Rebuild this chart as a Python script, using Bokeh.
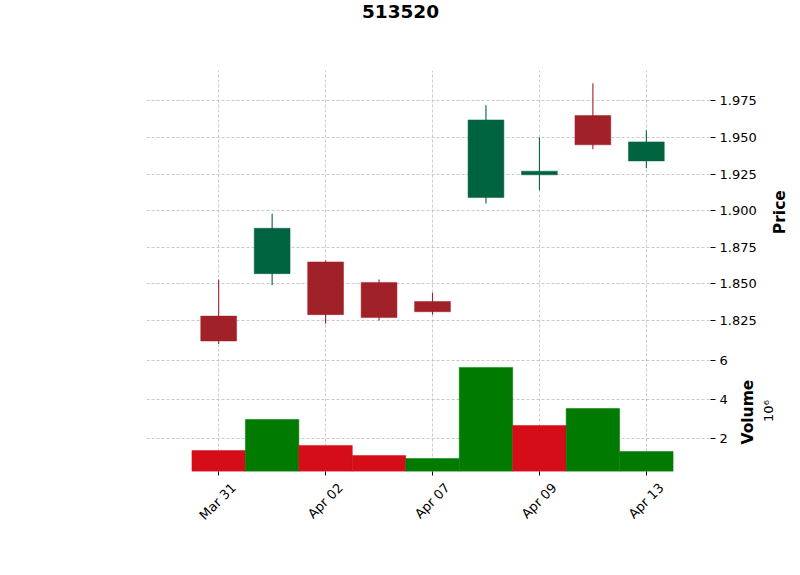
import math
from bokeh.plotting import figure
from bokeh.layouts import column
from bokeh.models import (ColumnDataSource, FixedTicker, Range1d, LinearAxis,
                          NumeralTickFormatter)
from bokeh.core.properties import value
from bokeh.embed import file_html
from bokeh.resources import INLINE

# ---- data ----
title_text = "513520"
dates = ["Mar 31", "Apr 01", "Apr 02", "Apr 03", "Apr 07", "Apr 08", "Apr 09", "Apr 10", "Apr 13"]
open_ = [1.828, 1.857, 1.865, 1.851, 1.838, 1.909, 1.9245, 1.965, 1.934]
high = [1.853, 1.898, 1.866, 1.853, 1.844, 1.972, 1.950, 1.987, 1.955]
low = [1.809, 1.849, 1.823, 1.825, 1.829, 1.905, 1.914, 1.942, 1.929]
close = [1.811, 1.888, 1.829, 1.827, 1.831, 1.962, 1.927, 1.945, 1.947]
volume = [1.40e6, 2.99e6, 1.66e6, 1.14e6, 0.99e6, 5.66e6, 2.68e6, 3.55e6, 1.35e6]
x_tick_idx = [0, 2, 4, 6, 8]
price_ticks = [1.825, 1.850, 1.875, 1.900, 1.925, 1.950, 1.975]
vol_ticks = [2, 4, 6]

# ---- styling / geometry ----
FONT = "DejaVu Sans"
UP, DOWN = "#006340", "#A02128"
VUP, VDOWN = "#007a00", "#d50d18"
GRID = "#bdbdbd"

W = 800
BL, FW = 146, 572
BR = W - BL - FW
FW_EFF = 564               # frame width after the right axes take their room
X_L, X_R = -1.35, 9.2
P_LO, P_HI = 1.80656, 1.99577
V_LO, V_HI = 0.323, 6.68
LABEL_SHIFT = 0.28         # rotated date labels sit centred under their ticks

T_H = 30                   # title strip
P_TB, P_FH = 40, 277       # price panel top border / frame height
V_FH, V_BB = 124, 80       # volume frame height / bottom border

idx = list(range(len(dates)))
body_top = [max(o, c) for o, c in zip(open_, close)]
body_bot = [min(o, c) for o, c in zip(open_, close)]
ccol = [UP if c >= o else DOWN for o, c in zip(open_, close)]
vcol = []
for i in idx:
    ref = open_[0] if i == 0 else close[i - 1]
    vcol.append(VUP if close[i] >= ref else VDOWN)
vol_m = [v / 1e6 for v in volume]

src = ColumnDataSource(dict(x=idx, high=high, low=low, top=body_top, bot=body_bot,
                            c=ccol, vc=vcol, vol=vol_m))


def sx2x(sx):
    return X_L + (sx - BL) / FW_EFF * (X_R - X_L)


def base(p):
    p.outline_line_color = None
    p.background_fill_color = "white"
    p.border_fill_color = "white"


def style_y(ax):
    ax.axis_line_color = None
    ax.major_tick_in = 0
    ax.major_tick_out = 5
    ax.minor_tick_line_color = None
    ax.major_tick_line_color = "black"
    ax.major_label_text_font = FONT
    ax.major_label_text_font_size = "13px"
    ax.major_label_text_color = "black"
    ax.major_label_standoff = 4


def label_axis(p, text, size, bold, std, pad):
    """A tick-less right axis carrying a label that reads bottom-to-top.
    The label starts at the bottom of the frame; `pad` non-breaking spaces
    lift it to its place."""
    ax = LinearAxis(ticker=FixedTicker(ticks=[]), axis_line_color=None,
                    major_tick_out=0, major_tick_in=0, major_label_standoff=0,
                    minor_tick_line_color=None)
    ax.axis_label = "\u00a0" * pad + text
    ax.axis_label_text_font = FONT
    ax.axis_label_text_font_size = size
    ax.axis_label_text_font_style = "bold" if bold else "normal"
    ax.axis_label_text_color = "black"
    ax.axis_label_standoff = std
    ax.axis_label_orientation = math.pi / 2
    ax.axis_label_align = "start"
    p.add_layout(ax, "right")
    return ax


def style_grid(p):
    for g in p.grid:
        g.grid_line_color = GRID
        g.grid_line_dash = "3 2"
        g.grid_line_width = 0.8


# ---- title strip ----
p0 = figure(width=W, height=T_H, x_range=Range1d(X_L, X_R), y_range=Range1d(0, T_H),
            x_axis_location=None, y_axis_location=None, toolbar_location=None,
            output_backend="svg", min_border=0)
base(p0)
p0.min_border_left = BL
p0.min_border_right = BR
p0.grid.visible = False
p0.text(x=[sx2x(400)], y=[T_H - 11], text=[title_text], text_font=value(FONT),
        text_font_size="18.5px", text_font_style="bold", text_align="center",
        text_baseline="middle", text_color="black")

# ---- price panel ----
p1 = figure(width=W, height=P_TB + P_FH, x_range=p0.x_range, y_range=Range1d(P_LO, P_HI),
            y_axis_location="right", x_axis_location=None, toolbar_location=None,
            output_backend="svg")
base(p1)
p1.min_border_top = P_TB
p1.min_border_bottom = 0
p1.min_border_left = BL
p1.min_border_right = BR
p1.segment(x0="x", x1="x", y0="low", y1="high", color="c", line_width=1.1, source=src)
p1.vbar(x="x", width=0.67, top="top", bottom="bot", fill_color="c", line_color="c",
        line_width=0.5, source=src)
p1.yaxis.ticker = FixedTicker(ticks=price_ticks)
p1.ygrid.ticker = FixedTicker(ticks=price_ticks)
p1.xgrid.ticker = FixedTicker(ticks=x_tick_idx)
p1.yaxis.formatter = NumeralTickFormatter(format="0.000")
style_y(p1.yaxis[0])
label_axis(p1, "Price", "15.5px", True, 20, 21)
style_grid(p1)

# ---- volume panel ----
p2 = figure(width=W, height=V_FH + V_BB, x_range=p0.x_range, y_range=Range1d(V_LO, V_HI),
            y_axis_location="right", toolbar_location=None, output_backend="svg")
base(p2)
p2.min_border_top = 0
p2.min_border_bottom = V_BB
p2.min_border_left = BL
p2.min_border_right = BR
p2.vbar(x="x", width=1.0, top="vol", bottom=0, fill_color="vc", line_color="vc",
        line_width=0.5, source=src)
p2.yaxis.ticker = FixedTicker(ticks=vol_ticks)
p2.ygrid.ticker = FixedTicker(ticks=vol_ticks)
style_y(p2.yaxis[0])
label_axis(p2, "Volume", "15.5px", True, 17, 5)
label_axis(p2, "10\u2076", "13px", False, 0, 12)

# x axis: tick marks only
xa = p2.xaxis[0]
xa.ticker = FixedTicker(ticks=x_tick_idx)
xa.major_label_overrides = {i: "" for i in x_tick_idx}
xa.axis_line_color = None
xa.major_tick_in = 0
xa.major_tick_out = 4
xa.minor_tick_line_color = None
xa.major_tick_line_color = "black"
xa.major_label_standoff = 0
p2.xgrid.ticker = FixedTicker(ticks=x_tick_idx)

# x axis: rotated date labels
lab_ticks = [i + LABEL_SHIFT for i in x_tick_idx]
xl = LinearAxis(ticker=FixedTicker(ticks=lab_ticks), axis_line_color=None,
                major_tick_out=0, major_tick_in=0, minor_tick_line_color=None,
                major_tick_line_color=None)
xl.major_label_overrides = {t: dates[i] for t, i in zip(lab_ticks, x_tick_idx)}
xl.major_label_orientation = math.pi / 4
xl.major_label_text_font = FONT
xl.major_label_text_font_size = "13px"
xl.major_label_text_color = "black"
xl.major_label_standoff = 10
p2.add_layout(xl, "below")
style_grid(p2)

layout = column(p0, p1, p2)
open("out.html", "w").write(file_html(layout, INLINE))
